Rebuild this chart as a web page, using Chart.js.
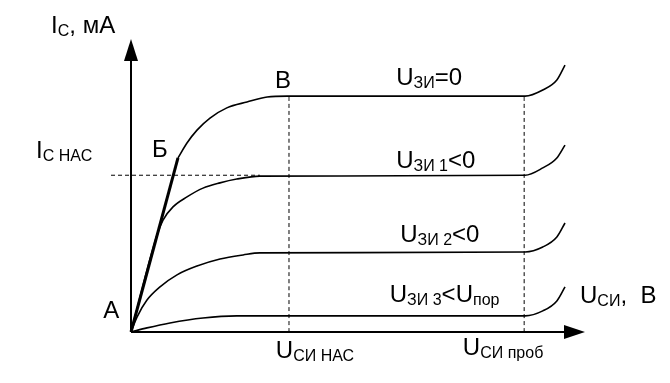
<!DOCTYPE html>
<html>
<head>
<meta charset="utf-8">
<script src="https://cdn.jsdelivr.net/npm/chart.js@4/dist/chart.umd.min.js"></script>
<style>
  html, body { margin: 0; padding: 0; background: #ffffff; }
  #wrap { width: 670px; height: 383px; position: relative; }
</style>
</head>
<body>
<div id="wrap"><canvas id="c"></canvas></div>
<script>
// ---- Data (arbitrary units: U_СИ on x, I_С on y) ----
const curve0X = [1.035, 1.233, 1.454, 1.74, 2.11, 2.555, 3.0, 3.44, 8.68, 9.07, 9.38, 9.56];
const curve0Y = [5.94, 6.45, 6.89, 7.30, 7.65, 7.85, 8.02, 8.05, 8.05, 8.26, 8.60, 9.11];

const curve1X = [0, 0.573, 0.705, 0.925, 1.233, 1.586, 1.96, 2.33, 2.84, 8.68, 9.07, 9.38, 9.56];
const curve1Y = [0, 3.31, 3.82, 4.27, 4.61, 4.91, 5.09, 5.22, 5.32, 5.35, 5.60, 5.94, 6.38];

const curve2X = [0, 0.132, 0.352, 0.639, 1.013, 1.454, 1.96, 2.47, 2.84, 8.68, 9.07, 9.38, 9.56];
const curve2Y = [0, 0.51, 1.09, 1.54, 1.95, 2.25, 2.49, 2.63, 2.70, 2.73, 2.90, 3.24, 3.72];

const curve3X = [0, 0.352, 0.859, 1.586, 2.33, 3.06, 8.68, 9.07, 9.38, 9.56];
const curve3Y = [0, 0.14, 0.31, 0.48, 0.55, 0.55, 0.55, 0.72, 1.06, 1.54];

// ohmic-region boundary line А–Б
const boundaryX = [0, 1.035];
const boundaryY = [0, 5.94];

// reference values
const icSat = 5.35;      // I_С НАС
const udsSat = 3.48;     // U_СИ НАС
const udsBreak = 8.66;   // U_СИ проб
const icTop = 8.05;      // top of dashed verticals
const dashLeft = -0.44;  // start of I_С НАС dashed line
const dashRight = 2.84;

// axis ranges
const xMin = 0, xMax = 10, yMin = 0, yMax = 10;

// text labels: [segments], anchor in data units (left, baseline)
const labels = [
  { segs: [["I", 0], ["C", 1], [", мА", 0]], x: -1.76, y: 10.2 },
  { segs: [["I", 0], ["C НАС", 1]], x: -2.09, y: 5.94 },
  { segs: [["Б", 0]], x: 0.46, y: 5.97 },
  { segs: [["В", 0]], x: 3.17, y: 8.33 },
  { segs: [["A", 0]], x: -0.61, y: 0.48 },
  { segs: [["U", 0], ["ЗИ", 1], ["=0", 0]], x: 5.84, y: 8.43 },
  { segs: [["U", 0], ["ЗИ 1", 1], ["<0", 0]], x: 5.84, y: 5.60 },
  { segs: [["U", 0], ["ЗИ 2", 1], ["<0", 0]], x: 5.93, y: 3.07 },
  { segs: [["U", 0], ["ЗИ 3", 1], ["<U", 0], ["пор", 1]], x: 5.70, y: 1.02 },
  { segs: [["U", 0], ["СИ", 1], [",  В", 0]], x: 9.89, y: 0.99 },
  { segs: [["U", 0], ["СИ НАС", 1]], x: 3.19, y: -0.89 },
  { segs: [["U", 0], ["СИ проб", 1]], x: 7.31, y: -0.78 }
];

function pts(xs, ys) { return xs.map((x, i) => ({ x: x, y: ys[i] })); }

const FONT = '"Liberation Sans", Arial, sans-serif';

const overlay = {
  id: 'overlay',
  afterDatasetsDraw(chart) {
    const ctx = chart.ctx;
    const xs = chart.scales.x, ys = chart.scales.y;
    const ox = xs.getPixelForValue(0), oy = ys.getPixelForValue(0);
    const xt = xs.getPixelForValue(xMax), yt = ys.getPixelForValue(yMax);
    ctx.save();
    ctx.strokeStyle = '#000'; ctx.fillStyle = '#000';
    ctx.lineWidth = 2;
    // axes
    ctx.beginPath();
    ctx.moveTo(ox, oy); ctx.lineTo(ox, yt + 20);
    ctx.moveTo(ox, oy); ctx.lineTo(xt - 18, oy);
    ctx.stroke();
    // arrowheads
    ctx.beginPath();
    ctx.moveTo(ox, yt); ctx.lineTo(ox - 7, yt + 22); ctx.lineTo(ox + 7, yt + 22); ctx.closePath();
    ctx.fill();
    ctx.beginPath();
    ctx.moveTo(xt, oy); ctx.lineTo(xt - 21, oy - 7); ctx.lineTo(xt - 21, oy + 7); ctx.closePath();
    ctx.fill();
    // labels
    ctx.textBaseline = 'alphabetic';
    ctx.textAlign = 'left';
    labels.forEach(l => {
      let px = xs.getPixelForValue(l.x);
      const py = ys.getPixelForValue(l.y);
      l.segs.forEach(s => {
        const sub = s[1] === 1;
        ctx.font = (sub ? '16px ' : '24px ') + FONT;
        ctx.fillText(s[0], px, py + (sub ? 3 : 0));
        px += ctx.measureText(s[0]).width;
      });
    });
    ctx.restore();
  }
};

const lineDs = (data, w, extra) => Object.assign({
  data: data, borderColor: '#000', borderWidth: w, pointRadius: 0,
  fill: false, cubicInterpolationMode: 'monotone', clip: false
}, extra || {});

new Chart(document.getElementById('c'), {
  type: 'scatter',
  data: {
    datasets: [
      lineDs(pts(curve0X, curve0Y), 1.6, { showLine: true }),
      lineDs(pts(curve1X, curve1Y), 1.6, { showLine: true }),
      lineDs(pts(curve2X, curve2Y), 1.6, { showLine: true }),
      lineDs(pts(curve3X, curve3Y), 1.6, { showLine: true }),
      lineDs(pts(boundaryX, boundaryY), 3, { showLine: true, cubicInterpolationMode: 'default', tension: 0 }),
      lineDs([{ x: dashLeft, y: icSat }, { x: dashRight, y: icSat }], 1, { showLine: true, borderDash: [4, 3], tension: 0 }),
      lineDs([{ x: udsSat, y: 0 }, { x: udsSat, y: icTop }], 1, { showLine: true, borderDash: [4, 3], tension: 0 }),
      lineDs([{ x: udsBreak, y: 0 }, { x: udsBreak, y: icTop }], 1, { showLine: true, borderDash: [4, 3], tension: 0 })
    ]
  },
  options: {
    responsive: true,
    maintainAspectRatio: false,
    animation: false,
    events: [],
    layout: { padding: { left: 131, right: 85, top: 39, bottom: 51 } },
    plugins: { legend: { display: false }, tooltip: { enabled: false } },
    scales: {
      x: { type: 'linear', min: xMin, max: xMax, display: false },
      y: { type: 'linear', min: yMin, max: yMax, display: false }
    }
  },
  plugins: [overlay]
});
</script>
</body>
</html>
